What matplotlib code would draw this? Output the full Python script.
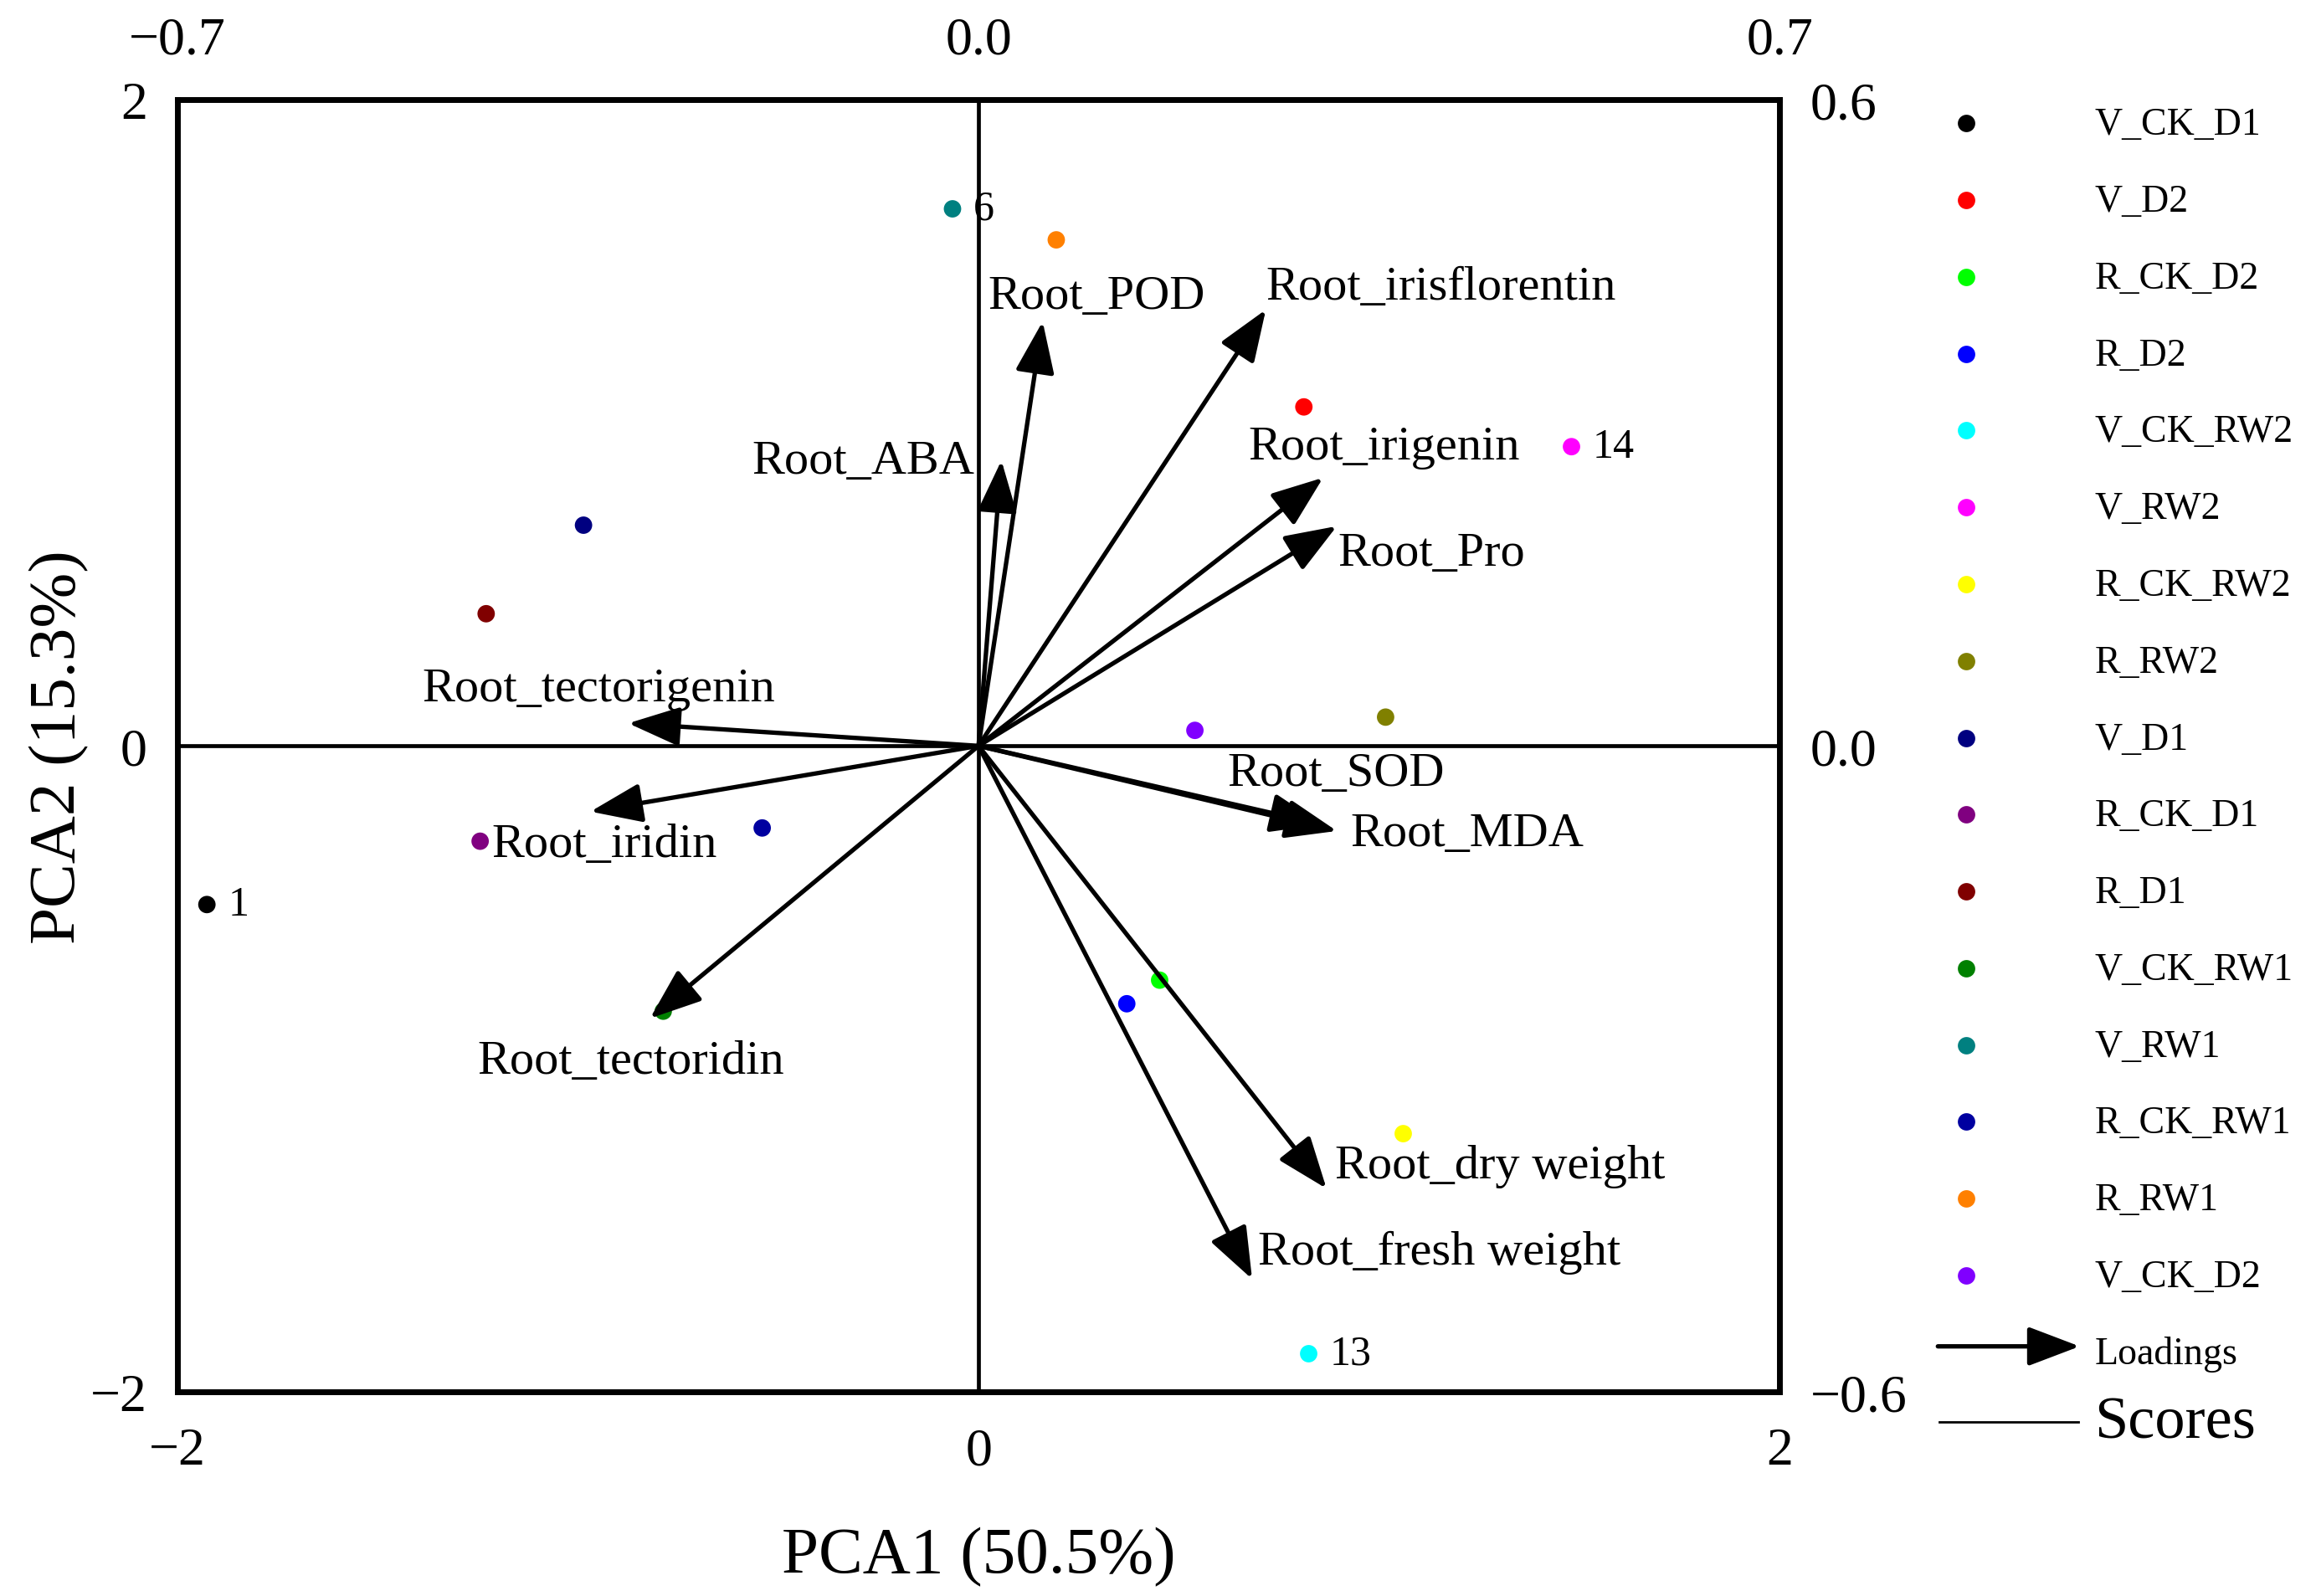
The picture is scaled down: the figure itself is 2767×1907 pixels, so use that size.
import matplotlib
matplotlib.use("Agg")
import matplotlib.pyplot as plt

plt.rcParams['font.family'] = ['Liberation Serif', 'DejaVu Serif']
plt.rcParams['axes.unicode_minus'] = True

# ---------------- data ----------------
groups = ["V_CK_D1", "V_D2", "R_CK_D2", "R_D2", "V_CK_RW2", "V_RW2", "R_CK_RW2", "R_RW2",
          "V_D1", "R_CK_D1", "R_D1", "V_CK_RW1", "V_RW1", "R_CK_RW1", "R_RW1", "V_CK_D2"]
colors = ["#000000", "#FF0000", "#00FF00", "#0000FF", "#00FFFF", "#FF00FF", "#FFFF00", "#808000",
          "#000080", "#800080", "#800000", "#008000", "#008080", "#0000A0", "#FF8000", "#8000FF"]
score_pc1 = [-1.926, 0.812, 0.452, 0.370, 0.824, 1.480, 1.060, 1.016,
             -0.986, -1.244, -1.229, -0.787, -0.065, -0.540, 0.194, 0.540]
score_pc2 = [-0.491, 1.049, -0.725, -0.798, -1.881, 0.926, -1.200, 0.089,
             0.683, -0.295, 0.409, -0.821, 1.662, -0.254, 1.566, 0.048]
score_tags = {0: "1", 12: "6", 4: "13", 5: "14"}

variables = ["Root_POD", "Root_ABA", "Root_irisflorentin", "Root_irigenin", "Root_Pro",
             "Root_SOD", "Root_MDA", "Root_dry weight", "Root_fresh weight",
             "Root_tectoridin", "Root_iridin", "Root_tectorigenin"]
load_pc1 = [0.056, 0.020, 0.251, 0.301, 0.313, 0.300, 0.313, 0.304, 0.239, -0.287, -0.339, -0.306]
load_pc2 = [0.394, 0.265, 0.405, 0.249, 0.204, -0.073, -0.079, -0.411, -0.495, -0.253, -0.061, 0.021]
label_x = [0.0084, -0.0032, 0.251, 0.2355, 0.314, 0.2174, 0.3245, 0.3116, 0.2445, -0.438, -0.4252, -0.486]
label_y = [0.4176, 0.264, 0.426, 0.2777, 0.179, -0.0254, -0.0816, -0.390, -0.4697, -0.2928, -0.0912, 0.0528]
label_ha = ["left", "right", "left", "left", "left", "left", "left", "left", "left", "left", "left", "left"]

score_ticks = [-2, 0, 2]
load_xticks = [-0.7, 0.0, 0.7]
load_yticks = [0.6, 0.0, -0.6]
xlabel = "PCA1 (50.5%)"
ylabel = "PCA2 (15.3%)"

# ---------------- figure ----------------
W, H = 1568.0, 1081.0
fig = plt.figure(figsize=(2767 / 200, 1908 / 200), dpi=200)
pos = [120 / W, 1 - 943 / H, (1205 - 120) / W, (943 - 68) / H]

ax = fig.add_axes(pos)
ax.set_xlim(-2, 2)
ax.set_ylim(-2, 2)
for s in ax.spines.values():
    s.set_linewidth(2.5)
ax.axhline(0, color='black', lw=1.7, zorder=1)
ax.axvline(0, color='black', lw=1.7, zorder=1)
ax.scatter(score_pc1, score_pc2, c=colors, s=56, zorder=3, linewidths=0)
for i, t in score_tags.items():
    ax.annotate(t, (score_pc1[i], score_pc2[i]), xytext=(9, 0), textcoords='offset points',
                ha='left', va='center', fontsize=18)
ax.set_xticks(score_ticks)
ax.set_yticks(score_ticks)
ax.set_xticklabels([f"{v:d}".replace('-', '\u2212') for v in score_ticks])
ax.set_yticklabels([f"{v:d}".replace('-', '\u2212') for v in score_ticks])
ax.tick_params(axis='x', length=0, pad=15, labelsize=23)
ax.tick_params(axis='y', length=0, pad=13, labelsize=23)
ax.set_xlabel(xlabel, fontsize=28.5, labelpad=22)
ax.set_ylabel(ylabel, fontsize=28.5)
ax.yaxis.set_label_coords(-0.055, 0.5)

ax2 = fig.add_axes(pos, facecolor='none')
ax2.set_xlim(-0.7, 0.7)
ax2.set_ylim(-0.6, 0.6)
for s in ax2.spines.values():
    s.set_visible(False)
ax2.xaxis.tick_top()
ax2.yaxis.tick_right()
ax2.set_xticks(load_xticks)
ax2.set_yticks(load_yticks)
ax2.set_xticklabels([f"{v:.1f}".replace('-', '\u2212') for v in load_xticks])
ax2.set_yticklabels([f"{v:.1f}".replace('-', '\u2212') for v in load_yticks])
ax2.tick_params(axis='x', length=0, pad=15, labelsize=23)
ax2.tick_params(axis='y', length=0, pad=13, labelsize=23)

astyle = "-|>,head_length=0.5,head_width=0.19"
for vx, vy in zip(load_pc1, load_pc2):
    ax2.annotate("", xy=(vx, vy), xytext=(0, 0),
                 arrowprops=dict(arrowstyle=astyle, mutation_scale=38, lw=1.9, color='black',
                                 shrinkA=0, shrinkB=0), zorder=4)
for name, lx, ly, ha in zip(variables, label_x, label_y, label_ha):
    ax2.text(lx, ly, name, ha=ha, va='center', fontsize=21)

# ---------------- legend ----------------
lg = fig.add_axes([0, 0, 1, 1], facecolor='none')
lg.set_xlim(0, W)
lg.set_ylim(H, 0)
lg.axis('off')
row0, step = 84, 52
for k, (g, c) in enumerate(zip(groups, colors)):
    y = row0 + k * step
    lg.scatter([1331], [y], s=56, color=c, linewidths=0)
    lg.text(1418, y + 1, g, ha='left', va='center', fontsize=16.5)
ly = row0 + len(groups) * step - 4
lg.annotate("", xy=(1408, ly), xytext=(1312, ly),
            arrowprops=dict(arrowstyle=astyle, mutation_scale=38, lw=1.9, color='black',
                            shrinkA=0, shrinkB=0))
lg.text(1418, ly + 5, "Loadings", ha='left', va='center', fontsize=16.5)
sy = ly + 51
lg.plot([1313, 1407], [sy, sy], color='black', lw=1.0)
lg.text(1418, sy + 1, "Scores", ha='left', va='center', fontsize=26)

fig.savefig("out.png", dpi=200)
